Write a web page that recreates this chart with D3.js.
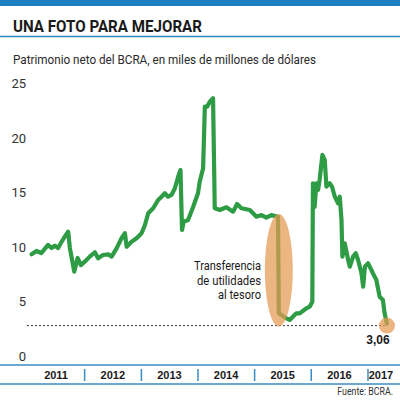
<!DOCTYPE html>
<html>
<head>
<meta charset="utf-8">
<script src="https://cdn.jsdelivr.net/npm/d3@7"></script>
<style>
  body { margin: 0; background: #fff; }
  svg { display: block; }
</style>
</head>
<body>
<div id="chart"></div>
<script>
// Patrimonio neto del BCRA (miles de millones de USD)
const dates = [
  "2011-01-24","2011-02-25","2011-03-28","2011-05-10","2011-06-02","2011-06-23","2011-07-14","2011-08-05",
  "2011-08-26","2011-09-17","2011-09-28","2011-10-26","2011-11-17","2011-12-08","2012-01-02","2012-02-03",
  "2012-03-07","2012-03-28","2012-04-29","2012-06-01","2012-06-23","2012-07-25","2012-08-26","2012-09-17",
  "2012-09-28","2012-10-30","2012-12-01","2013-01-02","2013-01-24","2013-02-14","2013-03-18","2013-04-19",
  "2013-05-11","2013-06-01","2013-06-22","2013-07-14","2013-08-05","2013-08-26","2013-09-10","2013-09-20",
  "2013-10-01","2013-10-29","2013-12-01","2014-01-01","2014-01-12","2014-02-03","2014-02-14","2014-03-01",
  "2014-03-18","2014-04-08","2014-04-19","2014-05-21","2014-07-03","2014-08-15","2014-09-10","2014-10-08",
  "2014-12-01","2015-01-13","2015-02-14","2015-03-18","2015-04-19","2015-06-01","2015-06-06","2015-07-25",
  "2015-08-15","2015-09-27","2015-10-19","2015-12-01","2015-12-22","2016-01-08","2016-01-12","2016-01-23",
  "2016-02-03","2016-02-14","2016-02-24","2016-03-13","2016-03-28","2016-04-08","2016-04-29","2016-05-14",
  "2016-06-01","2016-06-22","2016-07-03","2016-07-14","2016-07-20","2016-08-04","2016-08-26","2016-09-06",
  "2016-09-27","2016-10-14","2016-10-29","2016-11-20","2016-12-01","2016-12-12","2017-01-01","2017-01-23",
  "2017-02-02","2017-02-24","2017-03-17","2017-04-07","2017-04-18","2017-05-03"
];
const values = [
  9.40, 9.71, 9.52, 10.26, 9.98, 10.19, 9.98, 10.53,
  11.02, 11.47, 9.98, 7.81, 9.07, 8.42, 8.73, 9.19,
  9.59, 9.04, 9.34, 9.40, 9.19, 9.95, 10.87, 11.33,
  10.10, 10.56, 10.87, 11.33, 12.09, 13.16, 13.62, 14.38,
  14.68, 14.99, 14.68, 14.84, 15.45, 16.51, 17.12, 11.63,
  12.39, 12.55, 13.76, 14.99, 16.05, 17.28, 22.92, 22.92,
  23.38, 23.69, 13.62, 13.46, 13.71, 13.31, 14.01, 13.62,
  13.46, 12.85, 13.00, 12.76, 13.00, 12.85, 4.00, 3.54,
  3.39, 4.00, 4.00, 4.46, 4.61, 5.06, 15.91, 13.76,
  15.91, 15.29, 16.21, 18.50, 18.04, 15.60, 15.91, 15.60,
  14.68, 14.07, 14.68, 12.55, 9.19, 10.41, 8.88, 8.27,
  9.19, 9.50, 8.88, 7.66, 6.44, 8.27, 8.58, 7.97,
  7.66, 7.05, 5.52, 5.22, 4.00, 3.06
];
const years = [2011, 2012, 2013, 2014, 2015, 2016, 2017];
const yTicks = [0, 5, 10, 15, 20, 25];
const lastLabel = "3,06";
const annotation = ["Transferencia", "de utilidades", "al tesoro"];
const annotationWidths = [67, 64, 43];

const parse = d3.timeParse("%Y-%m-%d");
const data = dates.map((d, i) => ({ date: parse(d), value: values[i] }));

const W = 400, H = 400;
const font = "Roboto, 'Liberation Sans', sans-serif";
const svg = d3.select("#chart").append("svg")
  .attr("width", W).attr("height", H);

// header
svg.append("rect").attr("x", 0).attr("y", 0).attr("width", W).attr("height", 6).attr("fill", "#1b7fc1");
svg.append("text")
  .attr("x", 13).attr("y", 32)
  .attr("font-family", font)
  .attr("font-weight", "bold").attr("font-size", 17).attr("fill", "#1a1a1a")
  .attr("textLength", 189).attr("lengthAdjust", "spacingAndGlyphs")
  .text("UNA FOTO PARA MEJORAR");
svg.append("line").attr("x1", 0).attr("x2", W).attr("y1", 36.5).attr("y2", 36.5)
  .attr("stroke", "#2a86c0").attr("stroke-width", 1.5);
svg.append("text")
  .attr("x", 13).attr("y", 64)
  .attr("font-family", font).attr("font-size", 13).attr("fill", "#2a2a2a")
  .attr("textLength", 303).attr("lengthAdjust", "spacingAndGlyphs")
  .text("Patrimonio neto del BCRA, en miles de millones de dólares");

// scales
const x = d3.scaleTime()
  .domain([new Date(2011, 0, 1), new Date(2017, 0, 1)])
  .range([28, 368]);
const y = d3.scaleLinear().domain([0, 25]).range([357, 84]);

// y labels
svg.append("g").selectAll("text").data(yTicks).enter().append("text")
  .attr("x", 26).attr("y", d => y(d) + 4)
  .attr("text-anchor", "end")
  .attr("font-family", font).attr("font-size", 13).attr("fill", "#333")
  .text(d => d);

// dotted reference at last value
const last = data[data.length - 1];
svg.append("line")
  .attr("x1", 27).attr("x2", x(last.date))
  .attr("y1", y(last.value) + 2).attr("y2", y(last.value) + 2)
  .attr("stroke", "#333").attr("stroke-width", 1).attr("stroke-dasharray", "2,2");

// line
const line = d3.line().x(d => x(d.date)).y(d => y(d.value));
svg.append("path").datum(data)
  .attr("d", line)
  .attr("fill", "none").attr("stroke", "#2e9b45")
  .attr("stroke-width", 4.2).attr("stroke-linejoin", "round").attr("stroke-linecap", "round");

// ellipse over the transfer drop
const dropIdx = 62;
svg.append("ellipse")
  .attr("cx", x(data[dropIdx].date))
  .attr("cy", (y(13.1) + y(2.8)) / 2)
  .attr("rx", 14)
  .attr("ry", (y(2.8) - y(13.1)) / 2)
  .attr("fill", "#e49a52").attr("opacity", 0.72);

// end circle
svg.append("circle")
  .attr("cx", x(last.date)).attr("cy", y(last.value) + 2).attr("r", 8)
  .attr("fill", "#e49a52").attr("opacity", 0.72);

svg.append("text")
  .attr("x", 378).attr("y", 344).attr("text-anchor", "middle")
  .attr("font-family", "'Liberation Sans', sans-serif").attr("font-weight", "bold")
  .attr("font-size", 12).attr("fill", "#1a1a1a")
  .text(lastLabel);

// annotation
svg.append("g").selectAll("text").data(annotation).enter().append("text")
  .attr("x", (d, i) => 261 - annotationWidths[i]).attr("y", (d, i) => 270 + i * 14.5)
  .attr("font-family", font).attr("font-size", 13).attr("fill", "#1a1a1a")
  .attr("textLength", (d, i) => annotationWidths[i]).attr("lengthAdjust", "spacingAndGlyphs")
  .text(d => d);

// year band
svg.append("line").attr("x1", 0).attr("x2", W).attr("y1", 365).attr("y2", 365)
  .attr("stroke", "#3a8cc4").attr("stroke-width", 1.5);
svg.append("line").attr("x1", 0).attr("x2", W).attr("y1", 384).attr("y2", 384)
  .attr("stroke", "#3a8cc4").attr("stroke-width", 1.5);

const yearSep = years.slice(1).map(yr => new Date(yr, 0, 1));
svg.append("g").selectAll("line").data(yearSep).enter().append("line")
  .attr("x1", d => x(d)).attr("x2", d => x(d))
  .attr("y1", 369).attr("y2", 381)
  .attr("stroke", "#3a8cc4").attr("stroke-width", 1.5);

svg.append("g").selectAll("text").data(years).enter().append("text")
  .attr("x", d => d === 2017 ? 381 : x(new Date(d, 6, 1)))
  .attr("y", 379)
  .attr("text-anchor", "middle")
  .attr("font-family", "'Liberation Sans', sans-serif").attr("font-weight", "bold")
  .attr("font-size", 11).attr("fill", "#1a1a1a")
  .text(d => d);

// source, squeezed horizontally like the condensed original
svg.append("text")
  .attr("transform", "translate(393,395) scale(0.8,1)")
  .attr("text-anchor", "end")
  .attr("font-family", font).attr("font-size", 11)
  .attr("fill", "#333")
  .text("Fuente: BCRA.");
</script>
</body>
</html>
